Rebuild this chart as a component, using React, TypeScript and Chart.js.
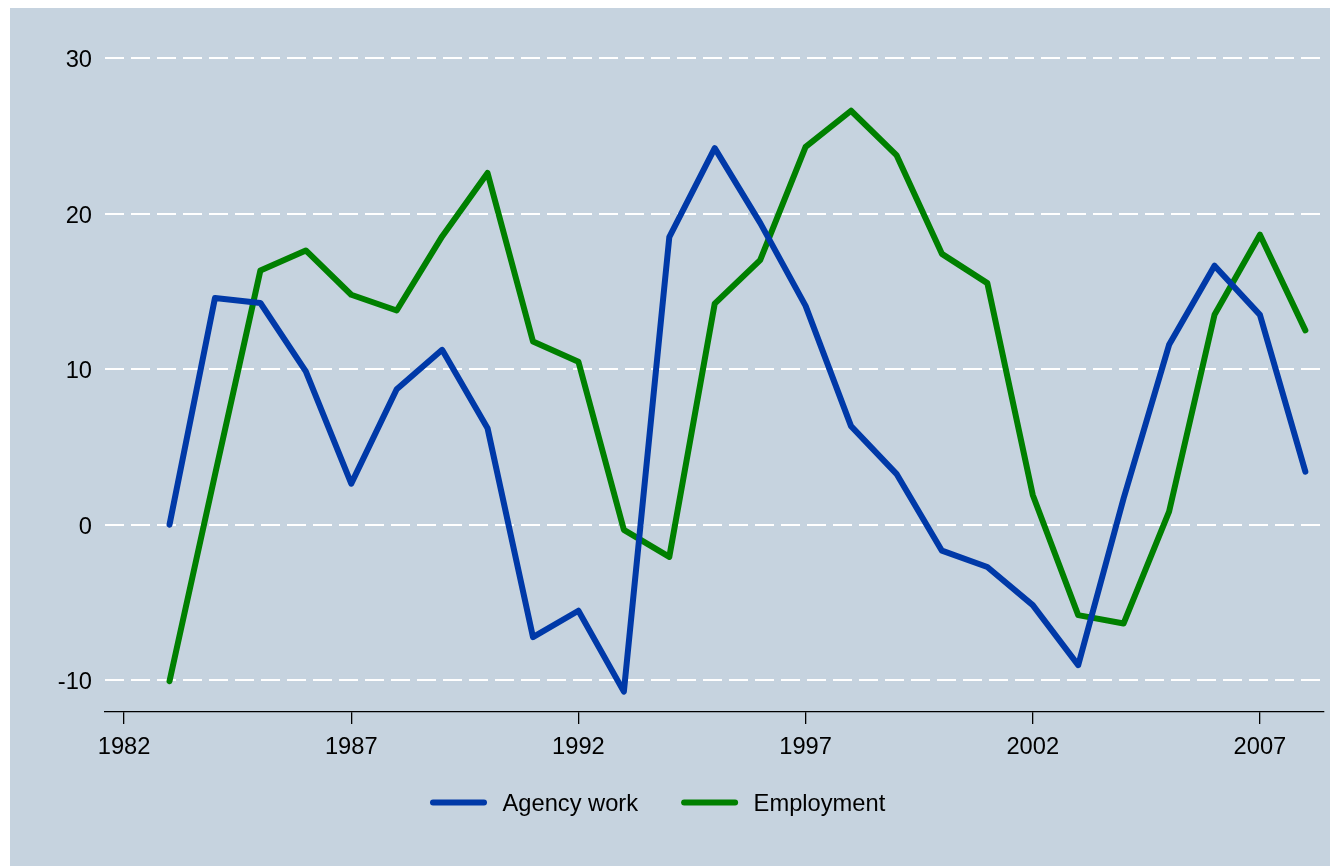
import React, { useEffect, useRef } from "react";
import { Chart, registerables } from "chart.js";

Chart.register(...registerables);

const years = [
  1983, 1984, 1985, 1986, 1987, 1988, 1989, 1990, 1991, 1992, 1993, 1994, 1995,
  1996, 1997, 1998, 1999, 2000, 2001, 2002, 2003, 2004, 2005, 2006, 2007, 2008,
];
const agencyWork = [
  0, 14.57, 14.25, 9.85, 2.64, 8.71, 11.24, 6.2, -7.23, -5.53, -10.73, 18.48,
  24.21, 19.4, 14.07, 6.34, 3.27, -1.67, -2.72, -5.17, -9.03, 1.7, 11.56, 16.65,
  13.49, 3.41,
];
const employment = [
  -10.06, 3.2, 16.34, 17.63, 14.78, 13.77, 18.53, 22.61, 11.78, 10.48, -0.33,
  -2.07, 14.21, 17.01, 24.29, 26.61, 23.76, 17.41, 15.53, 1.91, -5.81, -6.35,
  0.84, 13.49, 18.64, 12.49,
];
const seriesNames = ["Agency work", "Employment"];
const seriesColors = ["#0039A8", "#008000"];
const xTicks = [1982, 1987, 1992, 1997, 2002, 2007];
const yTicks = [-10, 0, 10, 20, 30];

const FONT = '"Liberation Sans", Arial, Helvetica, sans-serif';
const FONT_SIZE = 23.7;
const BG = "#C6D3DF";
const LINE_W = 6;

const bgPlugin = {
  id: "bgFill",
  beforeDraw(chart: any) {
    const ctx = chart.ctx;
    ctx.save();
    ctx.fillStyle = BG;
    ctx.fillRect(0, 0, chart.width, chart.height);
    ctx.restore();
  },
};

const legendPlugin = {
  id: "stataLegend",
  afterDraw(chart: any) {
    const ctx = chart.ctx;
    ctx.save();
    ctx.font = `${FONT_SIZE}px ${FONT}`;
    ctx.textBaseline = "middle";
    ctx.textAlign = "left";
    const y = 794.5;
    let x = 420;
    chart.data.datasets.forEach((ds: any) => {
      ctx.strokeStyle = ds.borderColor;
      ctx.lineWidth = LINE_W;
      ctx.lineCap = "round";
      ctx.beginPath();
      ctx.moveTo(x + LINE_W / 2, y);
      ctx.lineTo(x + 57 - LINE_W / 2, y);
      ctx.stroke();
      const tx = x + 57 + 15.5;
      ctx.fillStyle = "#000";
      ctx.fillText(ds.label, tx, y + 2);
      x = tx + ctx.measureText(ds.label).width + 43;
    });
    ctx.restore();
  },
};

export default function App() {
  const ref = useRef<HTMLCanvasElement | null>(null);

  useEffect(() => {
    if (!ref.current) return;
    const series = [agencyWork, employment];
    const chart = new Chart(ref.current, {
      type: "line",
      data: {
        datasets: series.map((vals, i) => ({
          label: seriesNames[i],
          data: years.map((yr, j) => ({ x: yr, y: vals[j] })),
          borderColor: seriesColors[i],
          backgroundColor: seriesColors[i],
          borderWidth: LINE_W,
          borderCapStyle: "round",
          borderJoinStyle: "round",
          pointRadius: 0,
          tension: 0,
          fill: false,
        })),
      },
      options: {
        responsive: false,
        animation: false,
        events: [],
        layout: { padding: { top: 50, right: 14, left: 0, bottom: 0 } },
        plugins: {
          legend: { display: false },
          tooltip: { enabled: false },
          title: { display: false },
        },
        scales: {
          x: {
            type: "linear",
            min: 1981.58,
            max: 2008.41,
            afterBuildTicks: (s: any) => {
              s.ticks = xTicks.map((v) => ({ value: v }));
            },
            afterFit: (s: any) => {
              s.height = 154;
            },
            grid: {
              drawOnChartArea: false,
              drawTicks: true,
              tickLength: 12,
              color: "#000",
              lineWidth: 1.3,
            },
            border: { display: true, color: "#000", width: 1.3 },
            ticks: {
              padding: 9,
              color: "#000",
              font: { family: FONT, size: FONT_SIZE },
              maxRotation: 0,
              autoSkip: false,
              callback: (v: any) => String(v),
            },
          },
          y: {
            type: "linear",
            min: -12.04,
            max: 30,
            afterBuildTicks: (s: any) => {
              s.ticks = yTicks.map((v) => ({ value: v }));
            },
            afterFit: (s: any) => {
              s.width = 95;
            },
            grid: {
              color: "#FFFFFF",
              lineWidth: 2,
              drawTicks: false,
              tickLength: 0,
            },
            border: { display: false, dash: [19, 7] },
            ticks: {
              padding: 13,
              labelOffset: 2.5,
              color: "#000",
              font: { family: FONT, size: FONT_SIZE },
              callback: (v: any) => String(v),
            },
          },
        },
      },
      plugins: [bgPlugin, legendPlugin],
    });
    return () => chart.destroy();
  }, []);

  return (
    <div style={{ marginLeft: 2, width: 1328, height: 858 }}>
      <canvas ref={ref} width={1328} height={858} style={{ display: "block" }} />
    </div>
  );
}
